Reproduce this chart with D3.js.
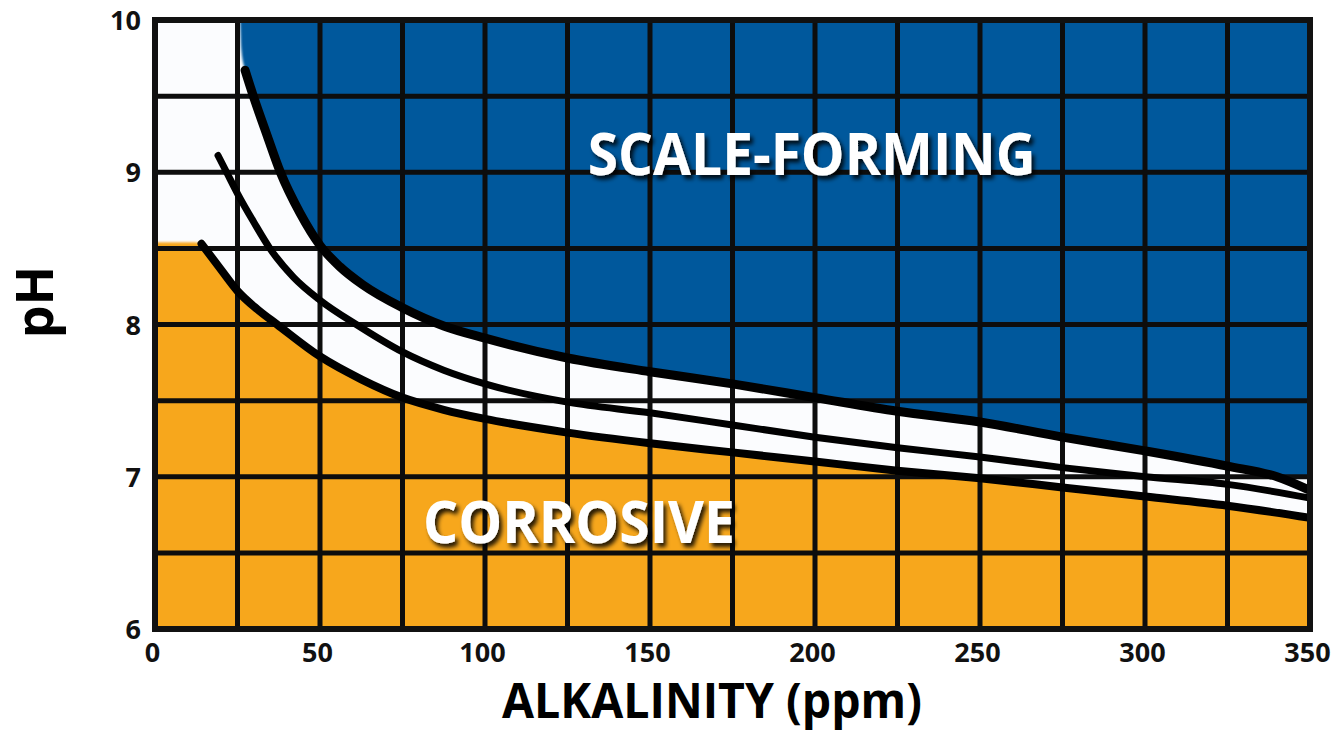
<!DOCTYPE html>
<html>
<head>
<meta charset="utf-8">
<script src="https://cdn.jsdelivr.net/npm/d3@7"></script>
<style>
  html, body { margin: 0; padding: 0; background: #ffffff; }
  svg { display: block; }
</style>
</head>
<body>
<svg id="chart" width="1340" height="737"></svg>
<script>
// ---- data ----
const xTicks = [0, 50, 100, 150, 200, 250, 300, 350];
const yTicks = [6, 7, 8, 9, 10];
const xGrid = [25, 50, 75, 100, 125, 150, 175, 200, 225, 250, 275, 300, 325];
const yGrid = [6.5, 7, 7.5, 8, 8.5, 9, 9.5];

// upper boundary (scale-forming above)
const topAlk = [27.3, 29.8, 34, 38, 44, 50, 56, 63, 75, 87.5, 100, 125, 150, 175, 200, 225, 250, 275, 300, 325, 340, 350];
const topPH  = [9.67, 9.5, 9.24, 9.0, 8.73, 8.52, 8.38, 8.26, 8.11, 7.99, 7.91, 7.78, 7.69, 7.61, 7.52, 7.43, 7.36, 7.26, 7.17, 7.07, 7.0, 6.91];
// middle line
const midAlk = [19.1, 21.7, 25, 30, 34.8, 42, 50, 61, 75, 87.5, 100, 125, 150, 175, 200, 225, 250, 275, 300, 325, 350];
const midPH  = [9.11, 9.0, 8.86, 8.67, 8.5, 8.31, 8.16, 8.0, 7.82, 7.7, 7.61, 7.49, 7.42, 7.34, 7.26, 7.19, 7.13, 7.06, 7.0, 6.95, 6.86];
// lower boundary (corrosive below)
const lowAlk = [14.1, 20, 25, 31, 37, 50, 62.5, 75, 87.5, 100, 125, 150, 175, 200, 225, 250, 275, 300, 325, 350];
const lowPH  = [8.53, 8.36, 8.22, 8.1, 8.0, 7.79, 7.64, 7.52, 7.44, 7.38, 7.29, 7.22, 7.16, 7.1, 7.04, 6.99, 6.93, 6.87, 6.81, 6.73];

const corrosiveShelfPH = 8.54;   // flat top of corrosive zone at low alkalinity
const scaleFloorPH = 7.0;        // scale zone does not go below this

const zoneLabels = [
  { text: "SCALE-FORMING", alk: 199, ph: 8.98, width: 448 },
  { text: "CORROSIVE",     alk: 128.5, ph: 6.565, width: 312 }
];

// ---- layout ----
const svg = d3.select("#chart");
const x = d3.scaleLinear().domain([0, 350]).range([155, 1310]);
const y = d3.scaleLinear().domain([6, 10]).range([629, 20]);

const BLUE = "#03599c", ORANGE = "#f7a71f", PALE = "#fbfcfe";
const FONT = "'Open Sans', 'DejaVu Sans', sans-serif";

const defs = svg.append("defs");
const sh = defs.append("filter").attr("id", "shadow").attr("x", "-10%").attr("y", "-30%").attr("width", "130%").attr("height", "170%");
sh.append("feDropShadow").attr("dx", 3).attr("dy", 4).attr("stdDeviation", 2.2)
  .attr("flood-color", "#000").attr("flood-opacity", 0.85);
const soft = defs.append("filter").attr("id", "soft").attr("x", "-5%").attr("y", "-5%").attr("width", "110%").attr("height", "110%");
soft.append("feGaussianBlur").attr("stdDeviation", 1.2);

const clip = defs.append("clipPath").attr("id", "plotClip");
clip.append("rect").attr("x", x(0)).attr("y", y(10)).attr("width", x(350) - x(0)).attr("height", y(6) - y(10));

const plot = svg.append("g").attr("clip-path", "url(#plotClip)");

// background
plot.append("rect").attr("x", x(0)).attr("y", y(10)).attr("width", x(350) - x(0)).attr("height", y(6) - y(10)).attr("fill", PALE);

const zip = (a, b) => a.map((v, i) => ({ alk: v, ph: b[i] }));
const topPts = zip(topAlk, topPH), midPts = zip(midAlk, midPH), lowPts = zip(lowAlk, lowPH);

// scale-forming area
const blueArea = d3.area()
  .x(d => x(d.alk))
  .y0(y(10))
  .y1(d => y(Math.max(d.ph, scaleFloorPH)))
  .curve(d3.curveMonotoneX);
const bluePts = [{ alk: 25.8, ph: 10 }, { alk: 26.2, ph: 9.8 }].concat(topPts);
plot.append("path").attr("d", blueArea(bluePts)).attr("fill", BLUE).attr("filter", "url(#soft)");

// corrosive area
const orangePts = [{ alk: 0, ph: corrosiveShelfPH }, { alk: 12, ph: corrosiveShelfPH }].concat(lowPts);
const orangeArea = d3.area()
  .x(d => x(d.alk))
  .y0(y(6))
  .y1(d => y(d.ph))
  .curve(d3.curveMonotoneX);
plot.append("path").attr("d", orangeArea(orangePts)).attr("fill", ORANGE).attr("filter", "url(#soft)");

// grid
plot.selectAll("line.vg").data(xGrid).enter().append("line")
  .attr("x1", d => x(d)).attr("x2", d => x(d)).attr("y1", y(10)).attr("y2", y(6))
  .attr("stroke", "#0d0d0d").attr("stroke-width", 5);
plot.selectAll("line.hg").data(yGrid).enter().append("line")
  .attr("y1", d => y(d)).attr("y2", d => y(d)).attr("x1", x(0)).attr("x2", x(350))
  .attr("stroke", "#0d0d0d").attr("stroke-width", 5);

// curves
const line = d3.line().x(d => x(d.alk)).y(d => y(d.ph)).curve(d3.curveMonotoneX);
[[topPts, 9], [midPts, 7], [lowPts, 8]].forEach(([pts, w]) => {
  plot.append("path").attr("d", line(pts)).attr("fill", "none")
    .attr("stroke", "#000").attr("stroke-width", w).attr("stroke-linecap", "round");
});

// border
svg.append("rect").attr("x", x(0)).attr("y", y(10)).attr("width", x(350) - x(0)).attr("height", y(6) - y(10))
  .attr("fill", "none").attr("stroke", "#111").attr("stroke-width", 6);

// zone labels
zoneLabels.forEach(l => {
  svg.append("text").attr("x", x(l.alk)).attr("y", y(l.ph))
    .attr("text-anchor", "middle")
    .attr("font-family", FONT).attr("font-weight", 700).attr("font-size", 59)
    .attr("textLength", l.width).attr("lengthAdjust", "spacingAndGlyphs")
    .attr("fill", "#fff").attr("filter", "url(#shadow)")
    .text(l.text);
});

// axes
const xAxis = d3.axisBottom(x).tickValues(xTicks).tickFormat(d3.format("d")).tickSize(0).tickPadding(0);
const gx = svg.append("g").attr("transform", `translate(-3,${y(6) + 33})`).call(xAxis);
gx.select(".domain").remove();
gx.selectAll("text").attr("font-family", FONT).attr("font-weight", 700).attr("font-size", 27).attr("fill", "#111").attr("dy", 0);

const yAxis = d3.axisLeft(y).tickValues(yTicks).tickFormat(d3.format("d")).tickSize(0).tickPadding(0);
const gy = svg.append("g").attr("transform", `translate(141,0)`).call(yAxis);
gy.select(".domain").remove();
gy.selectAll("text").attr("font-family", FONT).attr("font-weight", 700).attr("font-size", 27).attr("fill", "#111").attr("dy", "0.36em");

// axis titles
svg.append("text").attr("x", 712).attr("y", 718).attr("text-anchor", "middle")
  .attr("font-family", FONT).attr("font-weight", 700).attr("font-size", 48)
  .attr("textLength", 420).attr("lengthAdjust", "spacingAndGlyphs")
  .attr("fill", "#000").text("ALKALINITY (ppm)");
svg.append("text").attr("transform", "translate(53,302) rotate(-90)").attr("text-anchor", "middle")
  .attr("font-family", FONT).attr("font-weight", 700).attr("font-size", 52)
  .attr("fill", "#000").text("pH");
</script>
</body>
</html>
